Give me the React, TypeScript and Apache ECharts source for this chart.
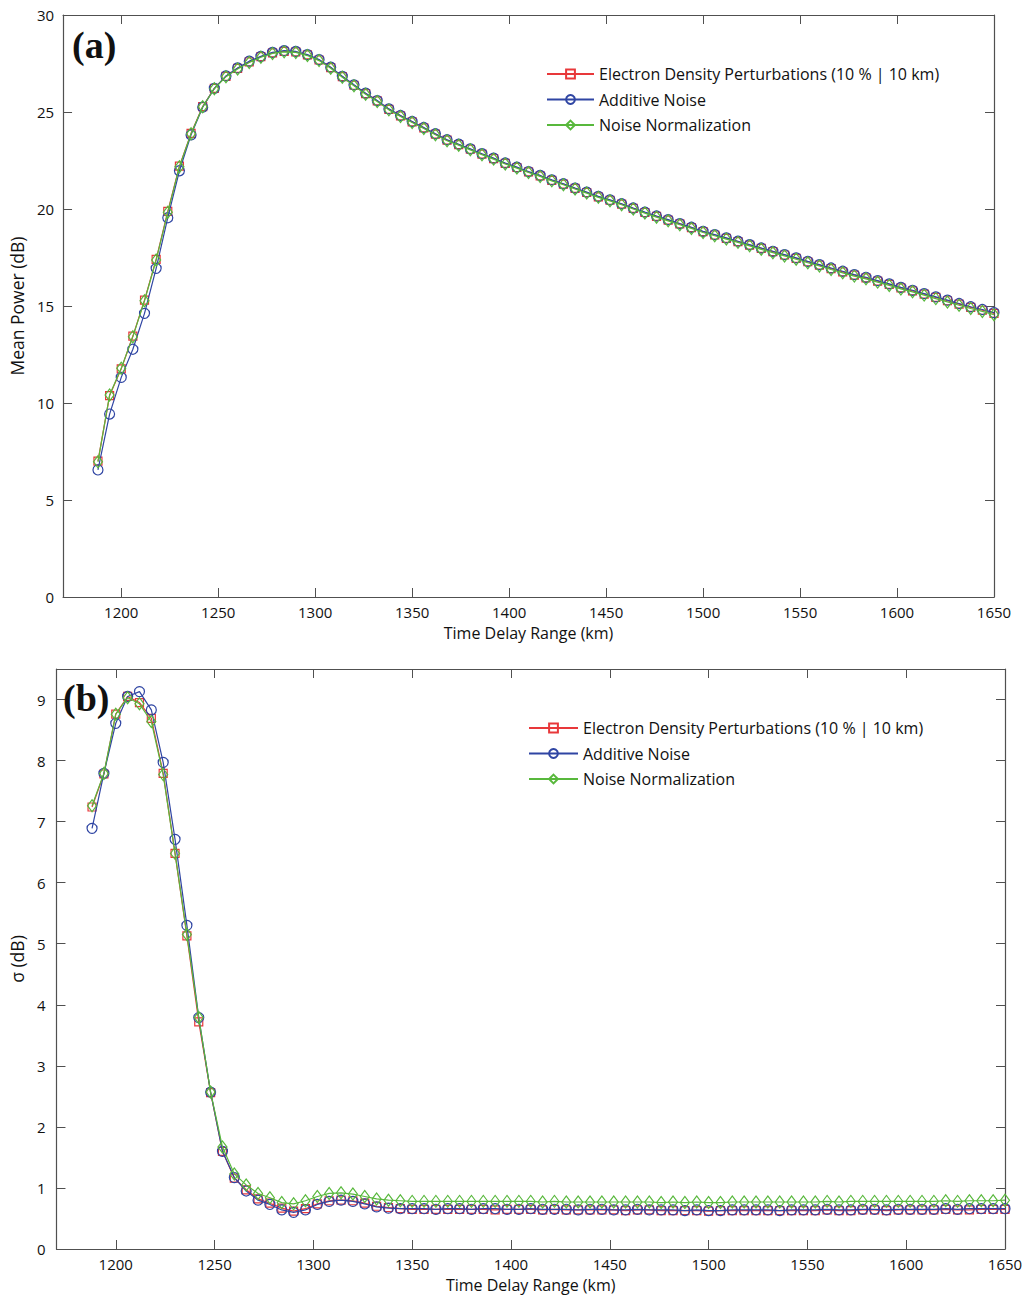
import React, { useEffect, useRef } from "react";
import * as echarts from "echarts";

// Time delay range (km) of each sample
const rangeKm = [
  1188, 1194, 1200, 1206, 1212, 1218, 1224, 1230, 1236, 1242,
  1248, 1254, 1260, 1266, 1272, 1278, 1284, 1290, 1296, 1302,
  1308, 1314, 1320, 1326, 1332, 1338, 1344, 1350, 1356, 1362,
  1368, 1374, 1380, 1386, 1392, 1398, 1404, 1410, 1416, 1422,
  1428, 1434, 1440, 1446, 1452, 1458, 1464, 1470, 1476, 1482,
  1488, 1494, 1500, 1506, 1512, 1518, 1524, 1530, 1536, 1542,
  1548, 1554, 1560, 1566, 1572, 1578, 1584, 1590, 1596, 1602,
  1608, 1614, 1620, 1626, 1632, 1638, 1644, 1650,
];

// Panel (a): mean power (dB)
const meanPowerEdp = [
  7.0, 10.38, 11.76, 13.45, 15.3, 17.4, 19.88, 22.21, 23.9, 25.28,
  26.22, 26.84, 27.25, 27.58, 27.85, 28.05, 28.13, 28.1, 27.94, 27.68,
  27.29, 26.82, 26.38, 25.95, 25.57, 25.14, 24.8, 24.49, 24.18, 23.86,
  23.55, 23.32, 23.08, 22.83, 22.6, 22.35, 22.14, 21.91, 21.71, 21.48,
  21.28, 21.06, 20.85, 20.63, 20.45, 20.25, 20.03, 19.82, 19.62, 19.43,
  19.23, 19.04, 18.83, 18.66, 18.49, 18.32, 18.14, 17.97, 17.8, 17.63,
  17.46, 17.28, 17.11, 16.93, 16.76, 16.59, 16.45, 16.28, 16.11, 15.93,
  15.78, 15.61, 15.44, 15.27, 15.1, 14.93, 14.78, 14.62,
];
const meanPowerAdd = [
  6.55, 9.43, 11.32, 12.77, 14.62, 16.94, 19.55, 21.97, 23.82, 25.25,
  26.22, 26.86, 27.27, 27.62, 27.87, 28.07, 28.16, 28.12, 27.96, 27.7,
  27.31, 26.84, 26.4, 25.97, 25.59, 25.16, 24.82, 24.51, 24.2, 23.88,
  23.57, 23.34, 23.1, 22.85, 22.62, 22.37, 22.16, 21.93, 21.73, 21.5,
  21.3, 21.08, 20.87, 20.65, 20.47, 20.27, 20.05, 19.84, 19.64, 19.45,
  19.25, 19.06, 18.85, 18.68, 18.51, 18.34, 18.16, 17.99, 17.82, 17.65,
  17.48, 17.3, 17.13, 16.96, 16.79, 16.62, 16.48, 16.31, 16.14, 15.96,
  15.81, 15.64, 15.47, 15.3, 15.13, 14.96, 14.82, 14.66,
];
const meanPowerNorm = [
  6.97, 10.41, 11.79, 13.42, 15.27, 17.37, 19.83, 22.18, 23.88, 25.27,
  26.2, 26.82, 27.22, 27.55, 27.82, 28.02, 28.1, 28.07, 27.91, 27.65,
  27.26, 26.79, 26.35, 25.92, 25.54, 25.11, 24.77, 24.46, 24.15, 23.83,
  23.52, 23.29, 23.05, 22.8, 22.57, 22.32, 22.11, 21.88, 21.68, 21.45,
  21.25, 21.03, 20.82, 20.6, 20.42, 20.22, 20.0, 19.79, 19.58, 19.39,
  19.19, 19.0, 18.79, 18.62, 18.45, 18.28, 18.1, 17.92, 17.75, 17.58,
  17.41, 17.23, 17.06, 16.88, 16.71, 16.54, 16.4, 16.23, 16.06, 15.88,
  15.73, 15.56, 15.38, 15.21, 15.04, 14.87, 14.72, 14.55,
];

// Panel (b): sigma (dB)
const sigmaEdp = [
  7.24, 7.78, 8.76, 9.05, 8.95, 8.69, 7.79, 6.48, 5.13, 3.72,
  2.56, 1.6, 1.16, 0.97, 0.82, 0.75, 0.67, 0.62, 0.66, 0.74,
  0.79, 0.8, 0.79, 0.75, 0.7, 0.68, 0.66, 0.65, 0.65, 0.65,
  0.65, 0.65, 0.65, 0.65, 0.64, 0.65, 0.65, 0.65, 0.64, 0.65,
  0.64, 0.64, 0.64, 0.64, 0.64, 0.63, 0.64, 0.64, 0.63, 0.63,
  0.63, 0.63, 0.62, 0.63, 0.63, 0.63, 0.63, 0.63, 0.63, 0.63,
  0.63, 0.63, 0.64, 0.63, 0.63, 0.64, 0.64, 0.63, 0.64, 0.64,
  0.64, 0.64, 0.65, 0.64, 0.64, 0.65, 0.65, 0.65,
];
const sigmaAdd = [
  6.89, 7.79, 8.61, 9.05, 9.13, 8.83, 7.97, 6.71, 5.3, 3.79,
  2.57, 1.6, 1.17, 0.95, 0.8, 0.73, 0.64, 0.6, 0.64, 0.73,
  0.78, 0.8, 0.78, 0.74, 0.69, 0.67, 0.66, 0.66, 0.66, 0.65,
  0.66, 0.66, 0.65, 0.66, 0.66, 0.65, 0.65, 0.66, 0.65, 0.65,
  0.65, 0.64, 0.65, 0.65, 0.64, 0.64, 0.65, 0.64, 0.64, 0.64,
  0.63, 0.64, 0.63, 0.63, 0.64, 0.64, 0.64, 0.64, 0.63, 0.64,
  0.64, 0.64, 0.65, 0.64, 0.64, 0.65, 0.65, 0.64, 0.65, 0.65,
  0.65, 0.65, 0.66, 0.65, 0.66, 0.66, 0.66, 0.66,
];
const sigmaNorm = [
  7.26, 7.79, 8.76, 9.03, 8.93, 8.64, 7.77, 6.48, 5.15, 3.79,
  2.57, 1.67, 1.23, 1.05, 0.91, 0.84, 0.76, 0.74, 0.79, 0.86,
  0.91, 0.92, 0.9, 0.86, 0.82, 0.8, 0.79, 0.78, 0.78, 0.78,
  0.78, 0.78, 0.78, 0.78, 0.78, 0.78, 0.78, 0.78, 0.77, 0.78,
  0.77, 0.77, 0.77, 0.77, 0.77, 0.77, 0.77, 0.77, 0.76, 0.77,
  0.76, 0.77, 0.76, 0.76, 0.77, 0.77, 0.77, 0.77, 0.77, 0.77,
  0.77, 0.77, 0.78, 0.77, 0.78, 0.78, 0.78, 0.78, 0.78, 0.78,
  0.78, 0.78, 0.79, 0.78, 0.79, 0.79, 0.79, 0.8,
];

const xTicks = [1200, 1250, 1300, 1350, 1400, 1450, 1500, 1550, 1600, 1650];
const sigmaTicks = [0, 1, 2, 3, 4, 5, 6, 7, 8, 9];
const seriesNames = [
  "Electron Density Perturbations (10 % | 10 km)",
  "Additive Noise",
  "Noise Normalization",
];
const seriesColors = ["#e8383a", "#2f45a3", "#58b83c"];
const seriesSymbols = ["rect", "circle", "diamond"];
const seriesSizes: any[] = [8, 10, [9, 12]];

const FONT = "'Open Sans', sans-serif";
const AXIS = "#505050";
const TEXT = "#111";

const plain = (v: number) => String(v);

function xAxes(gridIndex: number, nameGap: number) {
  const base = {
    type: "value",
    gridIndex,
    min: 1170,
    max: 1650,
    splitLine: { show: false },
    axisLine: { show: true, onZero: false, lineStyle: { color: AXIS, width: 1.2 } },
    axisTick: { show: true, inside: true, length: 9, customValues: xTicks, lineStyle: { color: AXIS } },
  };
  return [
    {
      ...base,
      position: "bottom",
      axisLabel: { show: true, customValues: xTicks, formatter: plain, margin: 7, fontSize: 15, lineHeight: 16, fontFamily: FONT, color: TEXT },
      name: "Time Delay Range (km)",
      nameLocation: "middle",
      nameGap,
      nameTextStyle: { fontSize: 16, lineHeight: 17, fontFamily: FONT, color: TEXT },
    },
    { ...base, position: "top", axisLabel: { show: false } },
  ];
}

function yAxes(gridIndex: number, max: number, interval: number, name: string, nameGap: number, margin: number, custom?: number[]) {
  const tick: any = { show: true, inside: true, length: 9, lineStyle: { color: AXIS } };
  const label: any = { show: true, margin, fontSize: 15, fontFamily: FONT, color: TEXT, formatter: plain };
  if (custom) {
    tick.customValues = custom;
    label.customValues = custom;
  }
  const base = {
    type: "value",
    gridIndex,
    min: 0,
    max,
    interval,
    splitLine: { show: false },
    axisLine: { show: true, onZero: false, lineStyle: { color: AXIS, width: 1.2 } },
    axisTick: tick,
  };
  return [
    {
      ...base,
      position: "left",
      axisLabel: label,
      name,
      nameLocation: "middle",
      nameGap,
      nameTextStyle: { fontSize: 17.5, fontFamily: FONT, color: TEXT },
    },
    { ...base, position: "right", axisLabel: { show: false } },
  ];
}

function makeSeries(gridAxis: number, arrays: number[][]) {
  return arrays.map((arr, i) => ({
    name: seriesNames[i],
    type: "line",
    xAxisIndex: gridAxis,
    yAxisIndex: gridAxis,
    data: rangeKm.map((x, k) => [x, arr[k]]),
    symbol: seriesSymbols[i],
    symbolSize: seriesSizes[i],
    showAllSymbol: true,
    color: seriesColors[i],
    lineStyle: { color: seriesColors[i], width: 1.2 },
    itemStyle: { color: "rgba(255,255,255,0)", borderColor: seriesColors[i], borderWidth: 1.2 },
    emphasis: { disabled: true },
    z: 2 + i,
  }));
}

function legendAt(left: number, top: number, itemWidth: number) {
  return {
    data: seriesNames,
    orient: "vertical",
    left,
    top,
    padding: 0,
    itemWidth,
    itemHeight: 11,
    itemGap: 9.5,
    selectedMode: false,
    textStyle: { fontFamily: FONT, fontSize: 16, color: TEXT, lineHeight: 14 },
  };
}

export default function App() {
  const ref = useRef<HTMLDivElement>(null);
  useEffect(() => {
    if (!ref.current) return;
    const chart = echarts.init(ref.current, undefined, { renderer: "svg" });
    const [xa0, xa1] = xAxes(0, 27);
    const [xb0, xb1] = xAxes(1, 27);
    const [ya0, ya1] = yAxes(0, 30, 5, "Mean Power (dB)", 34, 9);
    const [yb0, yb1] = yAxes(1, 9.5, 1, "σ (dB)", 16, 11, sigmaTicks);
    const option: any = {
      animation: false,
      backgroundColor: "#ffffff",
      grid: [
        { left: 62, top: 15, width: 932, height: 582 },
        { left: 56, top: 669, width: 949, height: 580 },
      ],
      // indices: 0 bottom(a),1 bottom(b),2 top(a),3 top(b)
      xAxis: [xa0, xb0, xa1, xb1],
      yAxis: [ya0, yb0, ya1, yb1],
      legend: [legendAt(546, 66, 47), legendAt(528, 720, 49)],
      series: [
        ...makeSeries(0, [meanPowerEdp, meanPowerAdd, meanPowerNorm]),
        ...makeSeries(1, [sigmaEdp, sigmaAdd, sigmaNorm]),
      ],
      graphic: [
        {
          type: "text",
          x: 72,
          y: 45,
          z: 10,
          style: { text: "(a)", fontFamily: "'Liberation Serif', serif", fontWeight: "bold", fontSize: 38, fill: TEXT, verticalAlign: "middle" },
        },
        {
          type: "text",
          x: 63,
          y: 698,
          z: 10,
          style: { text: "(b)", fontFamily: "'Liberation Serif', serif", fontWeight: "bold", fontSize: 38, fill: TEXT, verticalAlign: "middle" },
        },
      ],
    };
    chart.setOption(option);
    return () => chart.dispose();
  }, []);
  return (
    <div
      ref={ref}
      style={{ position: "absolute", left: 0, top: 0, width: 1028, height: 1295, background: "#fff" }}
    />
  );
}
